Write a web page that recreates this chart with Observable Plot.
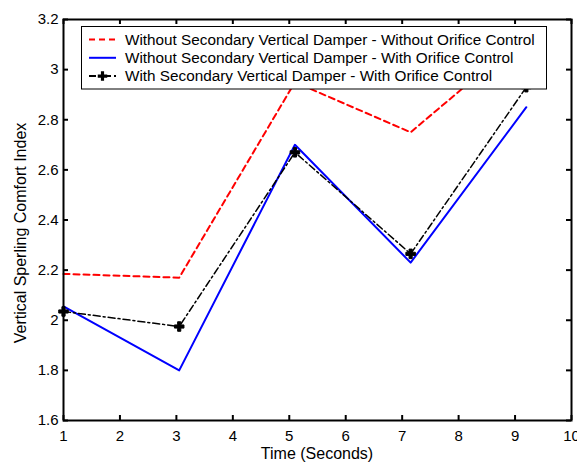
<!DOCTYPE html>
<html>
<head>
<meta charset="utf-8">
<script src="https://cdn.jsdelivr.net/npm/d3@7"></script>
<script src="https://cdn.jsdelivr.net/npm/@observablehq/plot@0.6"></script>
<style>
  html, body { margin: 0; padding: 0; background: #fff; overflow: hidden; }
  #chart svg { overflow: hidden; }
</style>
</head>
<body>
<div id="chart"></div>
<script>
// ---- data ----
const time = [1, 3.05, 5.1, 7.15, 9.2];
const noDamperNoOrifice = [2.185, 2.17, 2.95, 2.75, 3.14];
const noDamperOrifice = [2.055, 1.80, 2.70, 2.23, 2.85];
const damperOrifice = [2.035, 1.975, 2.67, 2.265, 2.93];

const seriesNames = [
  "Without Secondary Vertical Damper - Without Orifice Control",
  "Without Secondary Vertical Damper - With Orifice Control",
  "With Secondary Vertical Damper - With Orifice Control"
];
const xTicks = [1, 2, 3, 4, 5, 6, 7, 8, 9, 10];
const yTicks = [1.6, 1.8, 2.0, 2.2, 2.4, 2.6, 2.8, 3.0, 3.2];
const xLabel = "Time (Seconds)";
const yLabel = "Vertical Sperling Comfort Index";

const mk = (vals) => time.map((t, i) => ({t, v: vals[i]}));
const s1 = mk(noDamperNoOrifice);
const s2 = mk(noDamperOrifice);
const s3 = mk(damperOrifice);

const W = 577, H = 465;
const mL = 63, mR = 6, mT = 19, mB = 45;
const iw = W - mL - mR, ih = H - mT - mB;
const font = "'Liberation Sans', Arial, sans-serif";
const fmt = d => String(+d.toFixed(1));

const plot = Plot.plot({
  width: W, height: H,
  marginLeft: mL, marginRight: mR, marginTop: mT, marginBottom: mB,
  style: {fontFamily: font, fontSize: "15px", color: "#000", background: "#fff"},
  x: {domain: [1, 10]},
  y: {domain: [1.6, 3.2]},
  marks: [
    Plot.line(s1, {x: "t", y: "v", stroke: "#ff0000", strokeWidth: 2, strokeDasharray: "6,4"}),
    Plot.line(s2, {x: "t", y: "v", stroke: "#0000ff", strokeWidth: 2}),
    Plot.line(s3, {x: "t", y: "v", stroke: "#000", strokeWidth: 1.5, strokeDasharray: "7,3,2,3"}),
    Plot.dot(s3, {x: "t", y: "v", symbol: "cross", r: 4, fill: "#000", stroke: "#000", strokeWidth: 1}),
    Plot.tickX(xTicks, {x: d => d, insetTop: ih - 5, stroke: "#000", strokeWidth: 2}),
    Plot.tickX(xTicks, {x: d => d, insetBottom: ih - 5, stroke: "#000", strokeWidth: 2}),
    Plot.tickY(yTicks, {y: d => d, insetRight: iw - 5, stroke: "#000", strokeWidth: 2}),
    Plot.tickY(yTicks, {y: d => d, insetLeft: iw - 5, stroke: "#000", strokeWidth: 2}),
    Plot.frame({stroke: "#000", strokeWidth: 2}),
    Plot.axisX({ticks: xTicks, tickSize: 0, tickPadding: 10, tickFormat: d => String(d), label: null, fontSize: 15}),
    Plot.axisY({ticks: yTicks, tickSize: 0, tickPadding: 5, tickFormat: fmt, label: null, fontSize: 15})
  ]
});

document.getElementById("chart").appendChild(plot);

// axis titles
const svg = d3.select(plot);
svg.append("text")
  .attr("x", mL + iw / 2).attr("y", 459)
  .attr("text-anchor", "middle")
  .style("font-family", font).style("font-size", "16px").style("fill", "#000")
  .text(xLabel);
svg.append("text")
  .attr("transform", "translate(26,233) rotate(-90)")
  .attr("text-anchor", "middle")
  .style("font-family", font).style("font-size", "16px").style("fill", "#000")
  .text(yLabel);

// legend
const lg = svg.append("g").attr("text-anchor", "start");
lg.append("rect")
  .attr("x", 81.5).attr("y", 26.5).attr("width", 465).attr("height", 62.5)
  .style("fill", "#ffffff").style("stroke", "#000").style("stroke-width", "1px");
const rows = [
  {name: seriesNames[0], color: "#ff0000", dash: "6,4", w: 2, marker: false},
  {name: seriesNames[1], color: "#0000ff", dash: null, w: 2, marker: false},
  {name: seriesNames[2], color: "#000", dash: "7,3,2,3", w: 2, marker: true}
];
rows.forEach((r, i) => {
  const cy = 39.5 + i * 18.3;
  const ln = lg.append("line")
    .attr("x1", 89).attr("x2", 116).attr("y1", cy).attr("y2", cy)
    .style("stroke", r.color).style("stroke-width", r.w + "px");
  if (r.dash) ln.style("stroke-dasharray", r.dash);
  if (r.marker) {
    lg.append("path")
      .attr("d", d3.symbol(d3.symbolCross, 50)())
      .attr("transform", `translate(102.5,${cy})`)
      .style("fill", "#000");
  }
  lg.append("text")
    .attr("x", 125).attr("y", cy + 5.3)
    .attr("text-anchor", "start")
    .style("font-family", font).style("font-size", "15.3px").style("fill", "#000")
    .text(r.name);
});
</script>
</body>
</html>
